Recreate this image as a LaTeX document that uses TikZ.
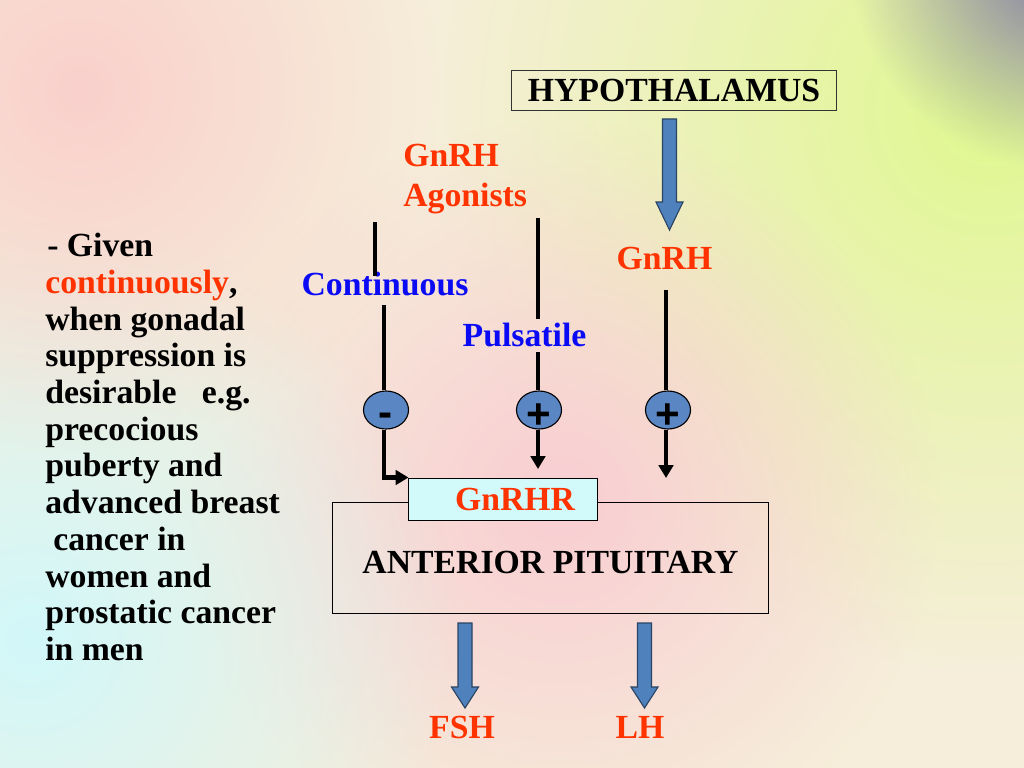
\documentclass[tikz,border=0pt]{standalone}
\usepackage{fontspec}
\setmainfont{Liberation Serif}
\setsansfont{Liberation Sans}
\usetikzlibrary{arrows.meta,shapes.geometric,fadings}
\definecolor{tred}{HTML}{FF3300}
\definecolor{tblue}{HTML}{0A0AF5}
\definecolor{abl}{HTML}{4F81BD}
\definecolor{abd}{HTML}{2A4463}
\definecolor{circ}{HTML}{5A86C4}
\definecolor{cyanbox}{HTML}{D2FAFA}
\definecolor{bgbase}{HTML}{F6EEDA}
\definecolor{bgyel}{HTML}{E0F890}
\definecolor{bgpink}{HTML}{F9CDD2}
\definecolor{bgcyan}{HTML}{D2F8FA}
\definecolor{bgpeach}{HTML}{FAD0CC}
\definecolor{bgpurp}{HTML}{7F78A4}
\tikzfading[name=myfade, inner color=transparent!0, outer color=transparent!100]
\newcommand{\myblockarrow}[4]{%
  \filldraw[bigarr] ({#1-7},#2) -- ({#1+7},#2) -- ({#1+7},{#3-#4}) -- ({#1+13.5},{#3-#4}) -- (#1,#3) -- ({#1-13.5},{#3-#4}) -- ({#1-7},{#3-#4}) -- cycle;}
\tikzset{
  conn/.style={line width=2.9pt, black},
  arr/.style={conn, -{Triangle[length=0.32cm,width=0.36cm]}},
  signc/.style={ellipse, draw=black, line width=0.8pt, fill=circ, minimum width=1.125cm, minimum height=0.95cm, inner sep=0pt, font=\sffamily\bfseries\fontsize{30}{30}\selectfont},
  lbl/.style={inner sep=0pt, font=\bfseries\fontsize{24}{28}\selectfont},
  bigarr/.style={fill=abl, draw=abd, line width=0.8pt},
  boxn/.style={draw=black, line width=0.7pt, inner sep=0pt, font=\bfseries\fontsize{24}{28}\selectfont},
}
\begin{document}
\begin{tikzpicture}[x=0.025cm,y=-0.025cm]
% background
\begin{scope}
\clip (0,0) rectangle (1024,768);
\fill[bgbase] (0,0) rectangle (1024,768);
\fill[bgyel, path fading=myfade] (990,110) circle (560);
\fill[bgpink, path fading=myfade] (560,500) circle (380);
\fill[bgcyan, path fading=myfade] (30,640) circle (430);
\fill[bgpeach, path fading=myfade] (80,90) circle (360);
\fill[bgpurp, path fading=myfade] (1060,-40) circle (210);
\end{scope}
\useasboundingbox (0,0) rectangle (1024,768);

% hypothalamus
\node[boxn, draw=black!80, minimum width=8.1cm, minimum height=1cm] (hypo) at (674,90) {HYPOTHALAMUS};
\myblockarrow{669.5}{119}{230}{28}

% labels
\node[lbl, text=tred, anchor=north west, align=left, font=\bfseries\fontsize{24}{28.5}\selectfont] (ago) at (403,144) {GnRH\\Agonists};
\node[lbl, text=tblue] (cont) at (385,284) {Continuous};
\node[lbl, text=tblue] (puls) at (524.5,335) {Pulsatile};
\node[lbl, text=tred] (gnrh) at (664.5,258) {GnRH};

% sign circles
\node[signc] (m1) at (386,410) {\smash{\raisebox{-0.42cm}{-}}};
\node[signc] (m2) at (539,410) {\smash{\raisebox{-0.46cm}{+}}};
\node[signc] (m3) at (668,410) {\smash{\raisebox{-0.46cm}{+}}};

% pituitary
\node[boxn, minimum width=10.875cm, minimum height=2.75cm, text height=0.8cm] (ant) at (550.5,558) {ANTERIOR PITUITARY};
\node[boxn, fill=cyanbox, minimum width=4.7cm, minimum height=1.05cm, text=tred] (gnrhr) at (503,499) {\hspace*{0.6cm}GnRHR};

% connectors
\coordinate (lt) at (375,222);
\draw[conn] (lt) -- (375,276);
\coordinate (ls) at (384,305);
\draw[conn] (ls) -- (ls |- m1.north);
\draw[arr] (ls |- m1.south) |- (gnrhr.north west);

\coordinate (mt) at (538,218);
\draw[conn] (mt) -- (538,319);
\coordinate (ms) at (538,352);
\draw[conn] (ms) -- (ms |- m2.north);
\coordinate (me) at (538,469);
\draw[arr] (me |- m2.south) -- (me);

\coordinate (rt) at (666,290);
\draw[conn] (rt) -- (rt |- m3.north);
\coordinate (re) at (666,478);
\draw[arr] (re |- m3.south) -- (re);

% outputs
\myblockarrow{465}{623}{708}{21}
\myblockarrow{644.5}{623}{708}{21}
\node[lbl, text=tred] (fsh) at (462,727) {FSH};
\node[lbl, text=tred] (lh) at (640,727) {LH};

% left text
\node[lbl, anchor=north west, align=left, font=\bfseries\fontsize{24}{26.1}\selectfont] (txt) at (45,233) {%
\hspace*{0.05cm}- Given\\
\textcolor{tred}{continuously},\\
when gonadal\\
suppression is\\
desirable \ \ e.g.\\
precocious\\
puberty and\\
advanced breast\\
\hspace*{0.2cm}cancer in\\
women and\\
prostatic cancer\\
in men};
\end{tikzpicture}
\end{document}
